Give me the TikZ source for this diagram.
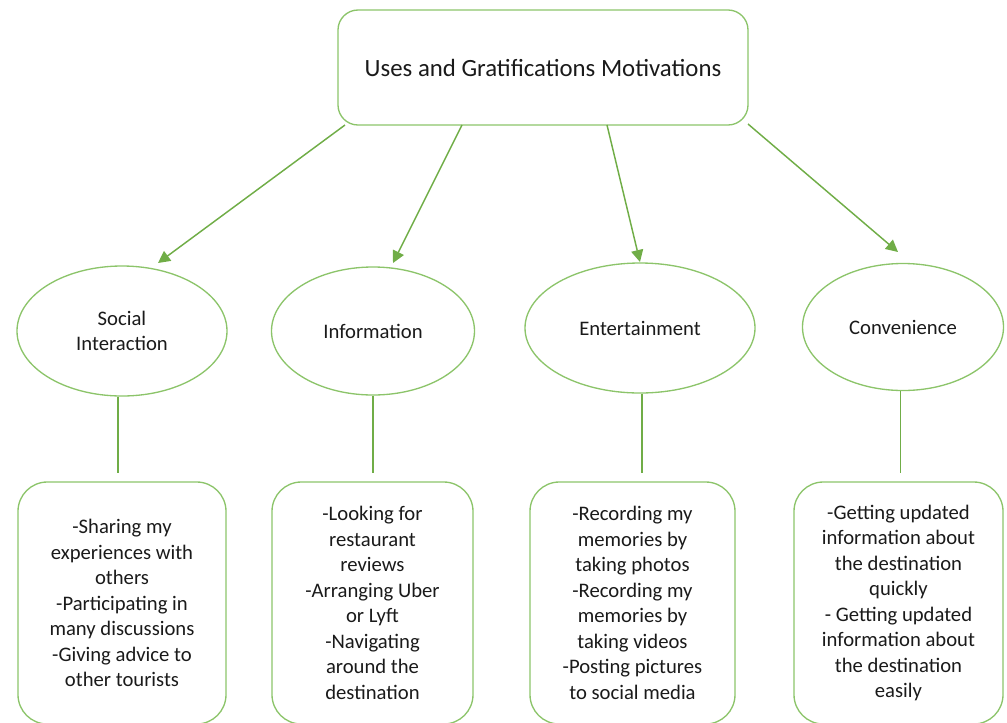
\documentclass[tikz,border=0pt]{standalone}
\usepackage{fontspec}
\setmainfont{Carlito}
\usetikzlibrary{shapes.geometric,arrows.meta}
\definecolor{ogreen}{HTML}{70AD47}
\definecolor{bgreen}{HTML}{8CC46A}
\definecolor{txt}{HTML}{1A1A1A}
\begin{document}
\begin{tikzpicture}[x=0.75pt,y=-0.75pt,
  topbox/.style={draw=bgreen,line width=1pt,rounded corners=15pt,minimum width=307.5pt,minimum height=86.25pt,inner sep=0pt,text=txt,font=\fontsize{18.6}{22}\selectfont},
  oval/.style={draw=bgreen,line width=1pt,ellipse,inner sep=0pt,align=center,text=txt,font=\fontsize{15.5}{19.3}\selectfont},
  listbox/.style={draw=bgreen,line width=1pt,rounded corners=22pt,minimum height=181.5pt,inner sep=0pt,align=center,text=txt,font=\fontsize{15.5}{19.1}\selectfont},
  arr/.style={draw=ogreen,line width=1.1pt,-{Triangle[length=9pt,width=9pt]}},
  link/.style={draw=ogreen,line width=0.9pt,shorten >=6pt}]
\useasboundingbox (0,0) rectangle (1007,722);
\clip (0,0) rectangle (1007,722);
\node[topbox] (top) at (543,67.5) {Uses and Gratifications Motivations};
\node[oval,minimum width=157.5pt,minimum height=97.5pt] (soc) at (122,331) {Social\\Interaction};
\node[oval,minimum width=152.25pt,minimum height=96pt] (inf) at (373,331) {Information};
\node[oval,minimum width=172.5pt,minimum height=97.5pt] (ent) at (640,328) {Entertainment};
\node[oval,minimum width=150.75pt,minimum height=95.25pt] (con) at (903,327) {Convenience};
\node[listbox,minimum width=156pt] (socb) at (122,603) {-Sharing my\\experiences with\\others\\-Participating in\\many discussions\\-Giving advice to\\other tourists};
\node[listbox,minimum width=150.75pt] (infb) at (372.5,603) {-Looking for\\restaurant\\reviews\\-Arranging Uber\\or Lyft\\-Navigating\\around the\\destination};
\node[listbox,minimum width=153.75pt] (entb) at (632.5,603) {-Recording my\\memories by\\taking photos\\-Recording my\\memories by\\taking videos\\-Posting pictures\\to social media};
\node[listbox,minimum width=156.75pt] (conb) at (898.5,603) {-Getting updated\\information about\\the destination\\quickly\\- Getting updated\\information about\\the destination\\easily};
\coordinate (s1) at (345,125); \coordinate (e1) at (158,263);
\coordinate (s2) at (462,125); \coordinate (e2) at (393,263);
\coordinate (s3) at (607,125); \coordinate (e3) at (640,262);
\coordinate (s4) at (748,124); \coordinate (e4) at (898,252);
\draw[arr] (s1) -- (e1);
\draw[arr] (s2) -- (e2);
\draw[arr] (s3) -- (e3);
\draw[arr] (s4) -- (e4);
\draw[link] ([xshift=-3pt]soc.south) -- ([xshift=-3pt]soc.south |- socb.north);
\draw[link] (inf.south) -- (inf.south |- infb.north);
\draw[link] ([xshift=1.5pt]ent.south) -- ([xshift=1.5pt]ent.south |- entb.north);
\draw[link] ([xshift=-2pt]con.south) -- ([xshift=-2pt]con.south |- conb.north);
\end{tikzpicture}
\end{document}
